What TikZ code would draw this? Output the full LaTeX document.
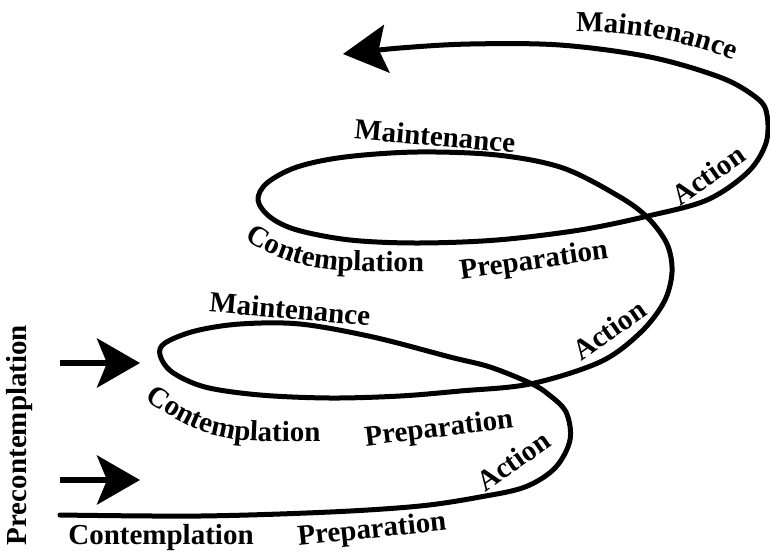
\documentclass[tikz,border=0pt]{standalone}
\usepackage{fontspec}
\setmainfont{Liberation Serif}
\usetikzlibrary{arrows.meta, decorations.text}

\newcommand{\stagefont}{\fontsize{29}{31}\selectfont\bfseries}

\begin{document}
\begin{tikzpicture}[
    x=1pt, y=-1pt,
    >=Stealth,
    % Define styles
    spiral/.style={line width=5pt, line cap=round, line join=round},
    entry/.style={line width=6pt, -{Stealth[length=43pt, width=49pt, inset=10pt]}},
    stage/.style={font=\stagefont, inner sep=0pt},
    curved/.style={decorate, decoration={text along path, text={|\stagefont|#1}}}
]
\useasboundingbox (0,0) rectangle (770,555);

% 1. The spiral of change
\draw[spiral, -{Stealth[length=44pt, width=48pt, inset=8pt]}] plot[smooth, tension=0.55] coordinates {
    (60,515) (200,516) (330,512) (420,506) (480,497) (525,487) (555,468) (570,440)
    (566,412) (548,394) (530,383) (490,367) (450,357) (373,337) (300,324) (240,324)
    (195,331) (165,343) (160,355) (172,372) (205,387) (260,395) (330,398) (400,396)
    (460,391) (530,384) (600,362) (640,333) (664,302) (672,272) (667,244) (648,218)
    (620,197) (563,168) (497,155) (417,152) (345,157) (297,167) (267,183) (258,200)
    (270,217) (297,230) (350,240) (417,243) (497,240) (580,230) (648,216) (707,200)
    (748,172) (766,143) (767,115) (758,99) (722,78) (650,57) (560,45) (470,44)
    (400,48) (343,54)};

% 2. Entry arrows
\coordinate (entry1 start) at (60,363);
\coordinate (entry1 tip) at (140,363);
\coordinate (entry2 start) at (60,480);
\coordinate (entry2 tip) at (140,480);
\draw[entry] (entry1 start) -- (entry1 tip);
\draw[entry] (entry2 start) -- (entry2 tip);

% 3. Stage labels
\node[stage, rotate=90] (precont) at (20,435) {Precontemplation};

% first turn
\node[stage] (cont1) at (161,538) {Contemplation};
\node[stage, rotate=6] (prep1) at (372,531) {Preparation};
\node[stage, rotate=35] (act1) at (513,461) {Action};
\node[stage, rotate=-5] (maint1) at (290,309) {Maintenance};

% second turn
\path[curved=Contemplation] (145,399) .. controls (185,428) and (215,441) .. (265,441) -- (345,441);
\node[stage, rotate=7] (prep2) at (439,430) {Preparation};
\node[stage, rotate=35] (act2) at (609,330) {Action};
\node[stage, rotate=-5] (maint2) at (435,136) {Maintenance};

% third turn
\path[curved=Contemplation] (245,239) .. controls (280,262) and (310,270) .. (360,271) -- (445,272);
\node[stage, rotate=8] (prep3) at (534,262) {Preparation};
\node[stage, rotate=35] (act3) at (708,175) {Action};
\path[curved=Maintenance] (576,32) .. controls (640,31) and (700,44) .. (750,67);

\end{tikzpicture}
\end{document}
